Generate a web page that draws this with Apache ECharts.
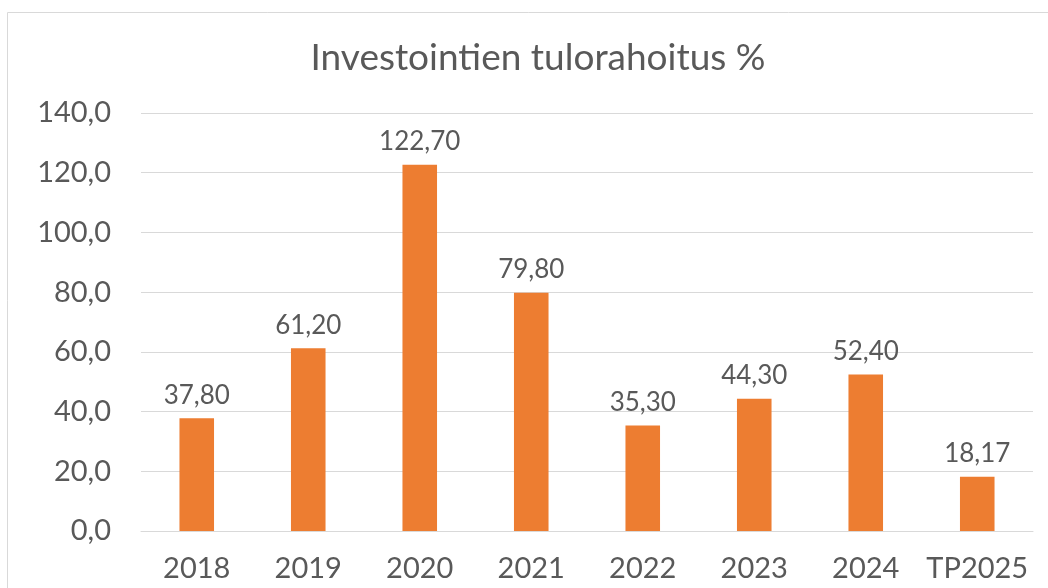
<!DOCTYPE html>
<html>
<head>
<meta charset="utf-8">
<script src="https://cdn.jsdelivr.net/npm/echarts@6/dist/echarts.min.js"></script>
<style>
  html, body { margin: 0; padding: 0; background: #fff; }
  #chart { width: 1048px; height: 588px; }
</style>
</head>
<body>
<div id="chart"></div>
<script>
// data
var categories = ['2018', '2019', '2020', '2021', '2022', '2023', '2024', 'TP2025'];
var values = [37.80, 61.20, 122.70, 79.80, 35.30, 44.30, 52.40, 18.17];
var labelTexts = ['37,80', '61,20', '122,70', '79,80', '35,30', '44,30', '52,40', '18,17'];

var font = 'Lato, "Open Sans", sans-serif';
var textColor = '#595959';

var myChart = echarts.init(document.getElementById('chart'));
var option = {
    animation: false,
    graphic: [{
        type: 'rect',
        shape: { x: 7.5, y: 12.5, width: 1200, height: 800 },
        style: { fill: 'none', stroke: '#d9d9d9', lineWidth: 1 },
        silent: true
    }],
    title: {
        text: 'Investointien tulorahoitus %',
        left: 533,
        textAlign: 'center',
        top: 35,
        textStyle: { fontFamily: font, fontWeight: 'normal', fontSize: 37, color: textColor, letterSpacing: 2 }
    },
    grid: { left: 141, right: 15, top: 113, bottom: 57 },
    xAxis: {
        type: 'category',
        data: categories,
        axisLine: { lineStyle: { color: '#d9d9d9' } },
        axisTick: { show: false },
        axisLabel: { interval: 0, fontFamily: font, fontSize: 29, color: textColor, margin: 23 }
    },
    yAxis: {
        type: 'value',
        min: 0,
        max: 140,
        interval: 20,
        axisLine: { show: false },
        axisTick: { show: false },
        splitLine: { lineStyle: { color: '#d9d9d9', width: 1 } },
        axisLabel: {
            fontFamily: font, fontSize: 29, color: textColor, margin: 30,
            formatter: function (v) { return v.toFixed(1).replace('.', ','); }
        }
    },
    series: [{
        type: 'bar',
        data: values,
        barWidth: '31%',
        itemStyle: { color: '#ED7D31' },
        label: {
            show: true,
            position: 'top',
            distance: 10,
            fontFamily: font, fontSize: 26, color: textColor,
            formatter: function (p) { return labelTexts[p.dataIndex]; }
        }
    }]
};
myChart.setOption(option);
</script>
</body>
</html>
